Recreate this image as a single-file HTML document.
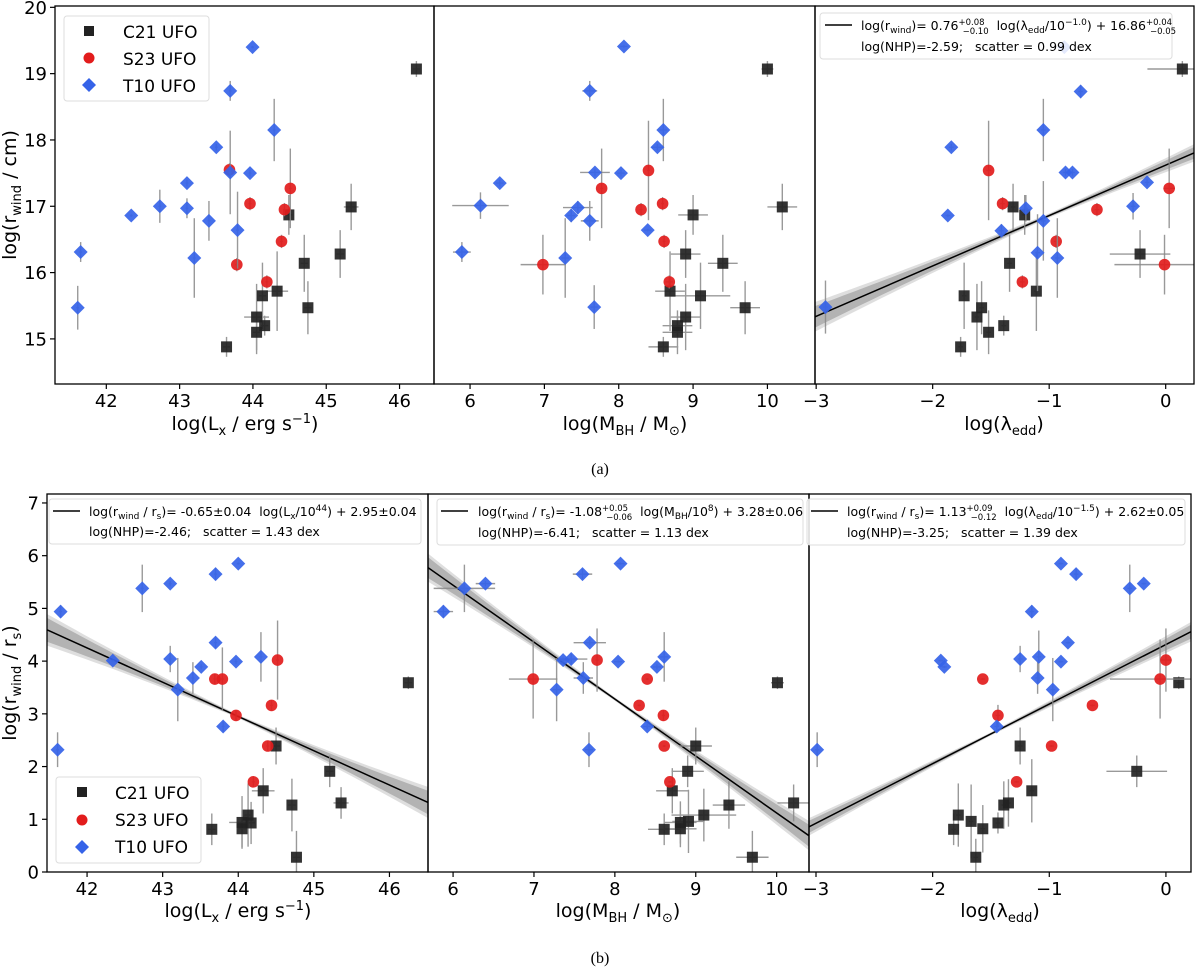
<!DOCTYPE html>
<html><head><meta charset="utf-8">
<style>
body{margin:0;background:#fff;}
svg{display:block;font-family:"DejaVu Sans","Liberation Sans",sans-serif;}
text{white-space:pre;}
</style></head>
<body>
<svg id="fig" width="1200" height="974" viewBox="0 0 1200 974" xmlns="http://www.w3.org/2000/svg"></svg>
<script>
// ---------- DATA (top row: log r_wind / cm) ----------
const aLxC21x=[46.23,45.34,44.49,45.19,44.70,44.13,44.33,44.05,44.75,44.16,44.05,43.64];
const aLxC21y=[19.07,16.99,16.87,16.28,16.14,15.65,15.72,15.33,15.47,15.20,15.10,14.88];
const aLxC21ye=[0.12,0.35,0.3,0.36,0.43,0.5,0.6,0.5,0.4,0.15,0.33,0.15];
const aLxC21xe=[0.05,0.1,0.05,0.05,0.05,0.05,0.15,0.17,0.05,0.05,0.05,0.05];
const aLxS23x=[43.68,43.96,44.51,44.43,44.39,43.78,44.19];
const aLxS23y=[17.55,17.04,17.27,16.95,16.47,16.12,15.86];
const aLxS23ye=[0.1,0.1,0.6,0.1,0.1,0.1,0.1];
const aLxT10x=[43.995,43.69,44.29,43.50,43.69,43.96,43.10,42.73,43.10,42.34,43.40,43.79,41.65,43.20,41.61];
const aLxT10y=[19.40,18.74,18.15,17.89,17.51,17.50,17.35,17.00,16.97,16.86,16.78,16.64,16.31,16.22,15.47];
const aLxT10ye=[0.02,0.15,0.47,0.05,0.63,0.05,0.05,0.25,0.15,0.02,0.3,0.58,0.15,0.6,0.33];

const aMC21x=[10.00,10.20,9.00,8.90,9.40,8.69,9.10,9.70,8.90,8.79,8.79,8.60];
const aMC21y=[19.07,16.99,16.87,16.28,16.14,15.72,15.65,15.47,15.33,15.20,15.10,14.88];
const aMC21ye=[0.12,0.35,0.3,0.36,0.43,0.6,0.5,0.4,0.5,0.15,0.33,0.15];
const aMC21xe=[0.08,0.2,0.2,0.2,0.2,0.2,0.4,0.2,0.2,0.2,0.2,0.2];
const aMS23x=[8.40,7.77,8.59,8.30,8.61,6.98,8.68];
const aMS23y=[17.54,17.27,17.04,16.95,16.47,16.12,15.86];
const aMS23ye=[0.75,0.6,0.1,0.1,0.1,0.45,0.1];
const aMS23xe=[0.02,0.02,0.02,0.02,0.02,0.3,0.05];
const aMT10x=[8.07,7.61,8.60,8.52,7.68,8.03,6.40,6.14,7.45,7.36,7.61,8.39,5.89,7.28,7.67];
const aMT10y=[19.41,18.74,18.15,17.89,17.51,17.50,17.35,17.01,16.98,16.86,16.78,16.64,16.31,16.22,15.48];
const aMT10ye=[0.02,0.15,0.47,0.05,0.05,0.05,0.05,0.2,0.1,0.1,0.3,0.02,0.15,0.6,0.33];
const aMT10xe=[0.05,0.1,0.05,0.08,0.2,0.05,0.05,0.38,0.2,0.05,0.12,0.05,0.12,0.05,0.05];

const aEC21x=[0.143,-1.31,-1.21,-0.22,-1.34,-1.11,-1.73,-1.58,-1.62,-1.39,-1.52,-1.76];
const aEC21y=[19.07,16.99,16.87,16.28,16.14,15.72,15.65,15.47,15.33,15.20,15.10,14.88];
const aEC21ye=[0.12,0.35,0.3,0.36,0.43,0.6,0.5,0.4,0.5,0.15,0.33,0.15];
const aEC21xe=[0.3,0.02,0.02,0.26,0.02,0.02,0.02,0.02,0.02,0.02,0.02,0.02];
const aES23x=[-1.52,-1.40,0.03,-0.59,-0.94,-0.01,-1.23];
const aES23y=[17.54,17.04,17.27,16.95,16.47,16.12,15.86];
const aES23ye=[0.75,0.1,0.6,0.1,0.1,0.45,0.1];
const aES23xe=[0.02,0.02,0.05,0.02,0.02,0.43,0.02];
const aET10x=[-0.87,-0.73,-1.05,-1.84,-0.86,-0.80,-0.16,-0.28,-1.20,-1.05,-1.87,-1.41,-1.10,-0.93,-2.92];
const aET10y=[19.40,18.73,18.15,17.89,17.51,17.51,17.36,17.00,16.97,16.78,16.86,16.63,16.30,16.22,15.48];
const aET10ye=[0.02,0.1,0.47,0.05,0.05,0.05,0.05,0.2,0.2,0.6,0.02,0.1,0.58,0.6,0.4];
const aFit=[0.76,16.86,-1.0];

// ---------- DATA (bottom row: log r_wind / r_s) ----------
const bLxC21x=[46.25,44.50,45.21,45.36,44.33,44.71,44.13,44.05,44.17,44.05,43.65,44.77];
const bLxC21y=[3.59,2.39,1.91,1.31,1.54,1.27,1.08,0.94,0.93,0.82,0.81,0.28];
const bLxC21ye=[0.12,0.35,0.3,0.3,0.43,0.5,0.6,0.5,0.4,0.35,0.3,0.5];
const bLxC21xe=[0.05,0.05,0.05,0.1,0.15,0.05,0.05,0.17,0.05,0.05,0.05,0.05];
const bLxS23x=[44.52,43.69,43.79,44.44,43.97,44.39,44.20];
const bLxS23y=[4.02,3.66,3.66,3.16,2.97,2.39,1.71];
const bLxS23ye=[0.75,0.1,0.6,0.1,0.1,0.1,0.1];
const bLxT10x=[44.00,43.70,43.10,42.73,41.65,43.70,44.30,43.10,42.34,43.97,43.51,43.40,43.20,43.80,41.61];
const bLxT10y=[5.85,5.65,5.47,5.38,4.94,4.35,4.08,4.04,4.01,3.99,3.89,3.68,3.46,2.76,2.32];
const bLxT10ye=[0.02,0.12,0.05,0.45,0.12,0.1,0.47,0.25,0.02,0.05,0.05,0.3,0.6,0.1,0.33];

const bMC21x=[10.01,9.00,8.90,10.21,8.71,9.41,9.10,8.81,8.91,8.81,8.61,9.70];
const bMC21y=[3.59,2.39,1.91,1.31,1.54,1.27,1.08,0.94,0.96,0.82,0.81,0.28];
const bMC21ye=[0.12,0.35,0.3,0.35,0.43,0.45,0.5,0.4,0.6,0.35,0.3,0.5];
const bMC21xe=[0.08,0.2,0.2,0.2,0.2,0.2,0.4,0.2,0.2,0.2,0.2,0.2];
const bMS23x=[7.78,8.40,6.99,8.30,8.60,8.61,8.68];
const bMS23y=[4.02,3.66,3.66,3.16,2.97,2.39,1.71];
const bMS23ye=[0.6,0.02,0.75,0.02,0.1,0.02,0.02];
const bMS23xe=[0.02,0.02,0.3,0.02,0.02,0.02,0.02];
const bMT10x=[8.07,7.60,6.40,6.14,5.88,7.69,8.61,8.52,7.36,7.46,8.04,7.61,7.28,8.40,7.68];
const bMT10y=[5.85,5.65,5.47,5.38,4.94,4.35,4.08,3.89,4.02,4.04,3.99,3.68,3.46,2.76,2.32];
const bMT10ye=[0.02,0.1,0.05,0.45,0.12,0.05,0.47,0.05,0.05,0.1,0.02,0.3,0.6,0.05,0.33];
const bMT10xe=[0.05,0.12,0.12,0.38,0.12,0.2,0.05,0.05,0.05,0.2,0.05,0.12,0.05,0.05,0.05];

const bEC21x=[0.11,-1.25,-0.25,-1.15,-1.35,-1.39,-1.78,-1.67,-1.44,-1.57,-1.82,-1.63];
const bEC21y=[3.59,2.39,1.91,1.54,1.31,1.27,1.08,0.96,0.93,0.82,0.81,0.28];
const bEC21ye=[0.12,0.35,0.3,0.6,0.45,0.45,0.6,0.7,0.2,0.45,0.3,0.35];
const bEC21xe=[0.02,0.02,0.26,0.02,0.02,0.02,0.02,0.02,0.02,0.02,0.02,0.02];
const bES23x=[0.00,-1.57,-0.05,-0.63,-1.44,-0.98,-1.28];
const bES23y=[4.02,3.66,3.66,3.16,2.97,2.39,1.71];
const bES23ye=[0.6,0.02,0.75,0.02,0.2,0.02,0.02];
const bES23xe=[0.05,0.02,0.43,0.02,0.02,0.02,0.02];
const bET10x=[-0.90,-0.77,-0.31,-0.19,-1.15,-0.84,-1.25,-1.09,-0.90,-1.93,-1.90,-1.10,-0.97,-1.45,-2.99];
const bET10y=[5.85,5.65,5.38,5.47,4.94,4.35,4.04,4.08,3.99,4.01,3.89,3.68,3.46,2.76,2.32];
const bET10ye=[0.02,0.1,0.45,0.02,0.12,0.02,0.25,0.5,0.02,0.02,0.02,0.3,0.6,0.1,0.33];
const bLxFit=[-0.65,2.95,44];
const bMFit=[-1.08,3.28,8];
const bEFit=[1.13,2.62,-1.5];

const aYTicks=[15,16,17,18,19,20];
const bYTicks=[0,1,2,3,4,5,6,7];
const lxTicks=[42,43,44,45,46];
const mTicks=[6,7,8,9,10];
const eTicks=[-3,-2,-1,0];

// ---------- rendering ----------
const NS="http://www.w3.org/2000/svg";
const svg=document.getElementById('fig');
function el(tag,attrs,parent){const e=document.createElementNS(NS,tag);for(const k in attrs)e.setAttribute(k,attrs[k]);(parent||svg).appendChild(e);return e;}
function lin(d0,d1,r0,r1){return v=>r0+(v-d0)*(r1-r0)/(d1-d0);}

const panels={
 aLx:{x0:55,x1:434,y0:6,y1:384,dx:[41.30,46.47],dy:[14.32,20.02]},
 aM:{x0:434,x1:815,y0:6,y1:384,dx:[5.515,10.64],dy:[14.32,20.02]},
 aE:{x0:815,x1:1194,y0:6,y1:384,dx:[-3.01,0.243],dy:[14.32,20.02]},
 bLx:{x0:47,x1:428,y0:494,y1:872,dx:[41.47,46.51],dy:[0,7.17]},
 bM:{x0:428,x1:809,y0:494,y1:872,dx:[5.69,10.40],dy:[0,7.17]},
 bE:{x0:809,x1:1191,y0:494,y1:872,dx:[-3.06,0.215],dy:[0,7.17]}
};
for(const k in panels){const p=panels[k];p.sx=lin(p.dx[0],p.dx[1],p.x0,p.x1);p.sy=lin(p.dy[0],p.dy[1],p.y1,p.y0);
 const cp=el('clipPath',{id:'clip-'+k});el('rect',{x:p.x0,y:p.y0,width:p.x1-p.x0,height:p.y1-p.y0},cp);
 p.g=el('g',{'clip-path':'url(#clip-'+k+')'});
 
 }

function band(p,fit,name){
 const [m,c,x0]=fit;const n=40;
 const levels=[[0.16,0.03,'#d6d6d6'],[0.09,0.018,'#a8a8a8']];
 levels.forEach((lv,li)=>{let up=[],dn=[];
  for(let i=0;i<=n;i++){const x=p.dx[0]+(p.dx[1]-p.dx[0])*i/n;const y=m*(x-x0)+c;const w=lv[1]+lv[0]*Math.abs(x-x0)*0.35+0.02*(x-x0)*(x-x0);
   up.push(p.sx(x).toFixed(1)+','+p.sy(y+w).toFixed(1));dn.unshift(p.sx(x).toFixed(1)+','+p.sy(y-w).toFixed(1));}
  const poly=el('polygon',{points:up.concat(dn).join(' '),fill:lv[2],opacity:0.8},p.g);
  
  });
 const ln=el('line',{x1:p.sx(p.dx[0]),y1:p.sy(m*(p.dx[0]-x0)+c),x2:p.sx(p.dx[1]),y2:p.sy(m*(p.dx[1]-x0)+c),stroke:'#000','stroke-width':1.5},p.g);
 
 
}

function series(p,xs,ys,xe,ye,kind,name){
 const eg=el('g',{stroke:'#888','stroke-width':1.4,opacity:0.85},p.g);
 
 
 xs.forEach((x,i)=>{const cx=p.sx(x),cy=p.sy(ys[i]);
  const e1=ye?ye[i]:0.02;el('line',{x1:cx,x2:cx,y1:p.sy(ys[i]-e1),y2:p.sy(ys[i]+e1)},eg);
  const e2=xe?xe[i]:0.02;el('line',{x1:p.sx(x-e2),x2:p.sx(x+e2),y1:cy,y2:cy},eg);});
 xs.forEach((x,i)=>{const cx=p.sx(x),cy=p.sy(ys[i]);let m;
  if(kind==='sq')m=el('rect',{x:cx-5.5,y:cy-5.5,width:11,height:11,fill:'#222',opacity:0.92},p.g);
  else if(kind==='ci')m=el('circle',{cx:cx,cy:cy,r:5.8,fill:'#e21c1c',opacity:0.92},p.g);
  else m=el('polygon',{points:`${cx},${cy-7} ${cx+7},${cy} ${cx},${cy+7} ${cx-7},${cy}`,fill:'#3563e8',opacity:0.92},p.g);
  
  });
}

function frame(p,k,xt,yt,showY){
 const r=el('rect',{x:p.x0,y:p.y0,width:p.x1-p.x0,height:p.y1-p.y0,fill:'none',stroke:'#000','stroke-width':1.3});
 
 
 xt.forEach(v=>{const x=p.sx(v);el('line',{x1:x,x2:x,y1:p.y1,y2:p.y1+5,stroke:'#000','stroke-width':1.2});
  const t=el('text',{x:x,y:p.y1+23,'font-size':18,'text-anchor':'middle'});t.textContent=(v<0?'\u2212'+(-v):v);
  
  });
 if(showY)yt.forEach(v=>{const y=p.sy(v);el('line',{x1:p.x0-5,x2:p.x0,y1:y,y2:y,stroke:'#000','stroke-width':1.2});
  const t=el('text',{x:p.x0-8,y:y+6.5,'font-size':18,'text-anchor':'end'});t.textContent=v;
  
  });
}

const P=panels;
band(P.aE,[aFit[0],aFit[1],aFit[2]],'fit-a-edd');
band(P.bLx,bLxFit,'fit-b-lx');band(P.bM,bMFit,'fit-b-mbh');band(P.bE,bEFit,'fit-b-edd');

series(P.aLx,aLxC21x,aLxC21y,aLxC21xe,aLxC21ye,'sq','c21-a-lx');
series(P.aLx,aLxS23x,aLxS23y,null,aLxS23ye,'ci','s23-a-lx');
series(P.aLx,aLxT10x,aLxT10y,null,aLxT10ye,'di','t10-a-lx');
series(P.aM,aMC21x,aMC21y,aMC21xe,aMC21ye,'sq','c21-a-mbh');
series(P.aM,aMS23x,aMS23y,aMS23xe,aMS23ye,'ci','s23-a-mbh');
series(P.aM,aMT10x,aMT10y,aMT10xe,aMT10ye,'di','t10-a-mbh');
series(P.aE,aEC21x,aEC21y,aEC21xe,aEC21ye,'sq','c21-a-edd');
series(P.aE,aES23x,aES23y,aES23xe,aES23ye,'ci','s23-a-edd');
series(P.aE,aET10x,aET10y,null,aET10ye,'di','t10-a-edd');
series(P.bLx,bLxC21x,bLxC21y,bLxC21xe,bLxC21ye,'sq','c21-b-lx');
series(P.bLx,bLxS23x,bLxS23y,null,bLxS23ye,'ci','s23-b-lx');
series(P.bLx,bLxT10x,bLxT10y,null,bLxT10ye,'di','t10-b-lx');
series(P.bM,bMC21x,bMC21y,bMC21xe,bMC21ye,'sq','c21-b-mbh');
series(P.bM,bMS23x,bMS23y,bMS23xe,bMS23ye,'ci','s23-b-mbh');
series(P.bM,bMT10x,bMT10y,bMT10xe,bMT10ye,'di','t10-b-mbh');
series(P.bE,bEC21x,bEC21y,bEC21xe,bEC21ye,'sq','c21-b-edd');
series(P.bE,bES23x,bES23y,bES23xe,bES23ye,'ci','s23-b-edd');
series(P.bE,bET10x,bET10y,null,bET10ye,'di','t10-b-edd');

frame(P.aLx,'aLx',lxTicks,aYTicks,true);frame(P.aM,'aM',mTicks,aYTicks,false);frame(P.aE,'aE',eTicks,aYTicks,false);
frame(P.bLx,'bLx',lxTicks,bYTicks,true);frame(P.bM,'bM',mTicks,bYTicks,false);frame(P.bE,'bE',eTicks,bYTicks,false);
</script>

<svg width="1200" height="974" style="position:absolute;left:0;top:0" xmlns="http://www.w3.org/2000/svg" font-family="DejaVu Sans, Liberation Sans, sans-serif">
 <g>
  <rect x="64" y="16" width="145" height="85" rx="3" fill="#fff" fill-opacity="0.85" stroke="#ddd"/>
  <rect x="84" y="26" width="10" height="10" fill="#222"/>
  <text x="123" y="38" font-size="17">C21 UFO</text>
  <circle cx="89" cy="58" r="5.5" fill="#e21c1c"/>
  <text x="123" y="65" font-size="17">S23 UFO</text>
  <polygon points="89,78 96,85 89,92 82,85" fill="#3563e8"/>
  <text x="123" y="92" font-size="17">T10 UFO</text>
 </g>
 <g>
  <rect x="56" y="777" width="145" height="86" rx="3" fill="#fff" fill-opacity="0.85" stroke="#ddd"/>
  <rect x="77" y="787" width="10" height="10" fill="#222"/>
  <text x="115" y="799" font-size="17">C21 UFO</text>
  <circle cx="82" cy="820" r="5.5" fill="#e21c1c"/>
  <text x="115" y="826" font-size="17">S23 UFO</text>
  <polygon points="82,840 89,847 82,854 75,847" fill="#3563e8"/>
  <text x="115" y="853" font-size="17">T10 UFO</text>
 </g>
 <g font-size="12.5">
  <rect x="820" y="13" width="352" height="46" rx="3" fill="#fff" fill-opacity="0.85" stroke="#ddd"/>
  <line x1="825" y1="25" x2="852" y2="25" stroke="#000" stroke-width="1.5"/>
  <text x="861" y="30">log(r<tspan font-size="9" dy="3">wind</tspan><tspan dy="-3">)= 0.76</tspan><tspan font-size="8.5" dy="-5">+0.08</tspan><tspan font-size="8.5" dx="-22" dy="9">−0.10</tspan><tspan dy="-4">  log(λ</tspan><tspan font-size="9" dy="3">edd</tspan><tspan dy="-3">/10</tspan><tspan font-size="9" dy="-5">−1.0</tspan><tspan dy="5">) + 16.86</tspan><tspan font-size="8.5" dy="-5">+0.04</tspan><tspan font-size="8.5" dx="-22" dy="9">−0.05</tspan></text>
  <text x="861" y="51">log(NHP)=-2.59;   scatter = 0.99 dex</text>
 </g>
 <g font-size="12.5">
  <rect x="49" y="499" width="372" height="45" rx="3" fill="#fff" fill-opacity="0.85" stroke="#ddd"/>
  <line x1="53" y1="511" x2="80" y2="511" stroke="#000" stroke-width="1.5"/>
  <text x="89" y="516">log(r<tspan font-size="9" dy="3">wind</tspan><tspan dy="-3"> / r</tspan><tspan font-size="9" dy="3">s</tspan><tspan dy="-3">)= -0.65±0.04  log(L</tspan><tspan font-size="9" dy="3">x</tspan><tspan dy="-3">/10</tspan><tspan font-size="9" dy="-5">44</tspan><tspan dy="5">) + 2.95±0.04</tspan></text>
  <text x="89" y="536">log(NHP)=-2.46;   scatter = 1.43 dex</text>
 </g>
 <g font-size="12.5">
  <rect x="437" y="499" width="366" height="46" rx="3" fill="#fff" fill-opacity="0.85" stroke="#ddd"/>
  <line x1="441" y1="511" x2="468" y2="511" stroke="#000" stroke-width="1.5"/>
  <text x="478" y="516">log(r<tspan font-size="9" dy="3">wind</tspan><tspan dy="-3"> / r</tspan><tspan font-size="9" dy="3">s</tspan><tspan dy="-3">)= -1.08</tspan><tspan font-size="8.5" dy="-5">+0.05</tspan><tspan font-size="8.5" dx="-22" dy="9">−0.06</tspan><tspan dy="-4">  log(M</tspan><tspan font-size="9" dy="3">BH</tspan><tspan dy="-3">/10</tspan><tspan font-size="9" dy="-5">8</tspan><tspan dy="5">) + 3.28±0.06</tspan></text>
  <text x="478" y="537">log(NHP)=-6.41;   scatter = 1.13 dex</text>
 </g>
 <g font-size="12.5">
  <rect x="807" y="499" width="378" height="46" rx="3" fill="#fff" fill-opacity="0.85" stroke="#ddd"/>
  <line x1="811" y1="511" x2="838" y2="511" stroke="#000" stroke-width="1.5"/>
  <text x="847" y="516">log(r<tspan font-size="9" dy="3">wind</tspan><tspan dy="-3"> / r</tspan><tspan font-size="9" dy="3">s</tspan><tspan dy="-3">)= 1.13</tspan><tspan font-size="8.5" dy="-5">+0.09</tspan><tspan font-size="8.5" dx="-22" dy="9">−0.12</tspan><tspan dy="-4">  log(λ</tspan><tspan font-size="9" dy="3">edd</tspan><tspan dy="-3">/10</tspan><tspan font-size="9" dy="-5">−1.5</tspan><tspan dy="5">) + 2.62±0.05</tspan></text>
  <text x="847" y="537">log(NHP)=-3.25;   scatter = 1.39 dex</text>
 </g>
 <text transform="translate(16,195) rotate(-90)" font-size="19" text-anchor="middle">log(r<tspan font-size="13" dy="5">wind</tspan><tspan dy="-5"> / cm)</tspan></text>
 <text transform="translate(16,683) rotate(-90)" font-size="19" text-anchor="middle">log(r<tspan font-size="13" dy="5">wind</tspan><tspan dy="-5"> / r</tspan><tspan font-size="13" dy="5">s</tspan><tspan dy="-5">)</tspan></text>
 <g font-size="19" text-anchor="middle">
  <text x="245" y="430">log(L<tspan font-size="13" dy="5">x</tspan><tspan dy="-5"> / erg s</tspan><tspan font-size="13" dy="-7">−1</tspan><tspan dy="7">)</tspan></text>
  <text x="625" y="430">log(M<tspan font-size="13" dy="5">BH</tspan><tspan dy="-5"> / M</tspan><tspan font-size="13" dy="5">⊙</tspan><tspan dy="-5">)</tspan></text>
  <text x="1004" y="430">log(λ<tspan font-size="13" dy="5">edd</tspan><tspan dy="-5">)</tspan></text>
  <text x="238" y="917">log(L<tspan font-size="13" dy="5">x</tspan><tspan dy="-5"> / erg s</tspan><tspan font-size="13" dy="-7">−1</tspan><tspan dy="7">)</tspan></text>
  <text x="618" y="917">log(M<tspan font-size="13" dy="5">BH</tspan><tspan dy="-5"> / M</tspan><tspan font-size="13" dy="5">⊙</tspan><tspan dy="-5">)</tspan></text>
  <text x="1000" y="917">log(λ<tspan font-size="13" dy="5">edd</tspan><tspan dy="-5">)</tspan></text>
 </g>
 <text x="600" y="474" font-family="Liberation Serif, serif" font-size="16" text-anchor="middle">(a)</text>
 <text x="600" y="963" font-family="Liberation Serif, serif" font-size="16" text-anchor="middle">(b)</text>
</svg>
</body></html>
